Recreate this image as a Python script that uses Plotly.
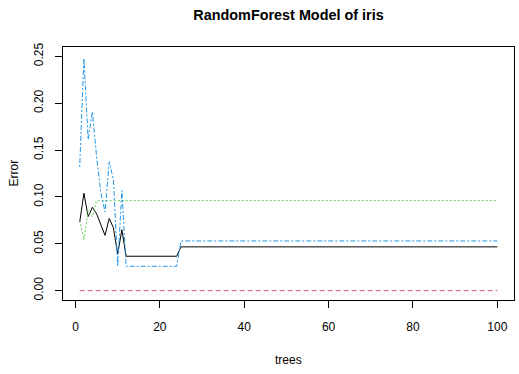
import plotly.graph_objects as go

trees = list(range(1, 101))

oob_early = [0.073, 0.104, 0.079, 0.089, 0.082, 0.071, 0.059, 0.077, 0.067, 0.039, 0.065]
oob = oob_early + [0.0367] * 13 + [0.0467] * 76

setosa = [0.0] * 100

versicolor_early = [0.075, 0.054, 0.0857, 0.0786]
versicolor = versicolor_early + [0.096] * 96

virginica_early = [0.132, 0.248, 0.161, 0.191, 0.143, 0.105, 0.084, 0.1375, 0.118, 0.026, 0.107]
virginica = virginica_early + [0.026] * 13 + [0.053] * 76

series = [
    ("OOB", oob, "black", "solid"),
    ("setosa", setosa, "#DF536B", "5px,3px"),
    ("versicolor", versicolor, "#61D04F", "2px,2px"),
    ("virginica", virginica, "#2297E6", "2px,2px,5px,2px"),
]

y_ticks = [0.0, 0.05, 0.10, 0.15, 0.20, 0.25]
x_ticks = [0, 20, 40, 60, 80, 100]

fig = go.Figure()
for name, vals, col, dash in series:
    fig.add_trace(go.Scatter(x=trees, y=vals, mode="lines", name=name,
                             line=dict(color=col, width=1, dash=dash)))

font = "Liberation Sans, Arial, sans-serif"
fig.update_layout(
    width=519, height=374,
    margin=dict(l=63, r=5, t=47, b=74),
    paper_bgcolor="white", plot_bgcolor="white",
    showlegend=False,
    font=dict(family=font, size=12, color="black"),
    title=dict(text="<b>RandomForest Model of iris</b>", x=0.5, xref="paper",
               y=1 - 15 / 374, yref="container", xanchor="center", yanchor="middle",
               font=dict(family=font, size=14.4, color="black")),
    xaxis=dict(range=[-2.96, 103.96], tickvals=x_ticks, showgrid=False, zeroline=False,
               showline=True, mirror=True, linecolor="black", linewidth=1,
               ticks="outside", ticklen=7, tickcolor="black", tickwidth=1,
               ticklabelstandoff=9, tickfont=dict(size=12), automargin=False),
    yaxis=dict(range=[-0.01, 0.26], tickvals=y_ticks, tickformat=".2f", showgrid=False,
               zeroline=False, showline=True, mirror=True, linecolor="black", linewidth=1,
               ticks="outside", ticklen=7, tickcolor="black", tickwidth=1,
               tickangle=-90, ticklabelstandoff=7, tickfont=dict(size=12),
               automargin=False),
    annotations=[
        dict(text="trees", xref="paper", yref="paper", x=0.5, y=-60 / 253,
             xanchor="center", yanchor="middle", showarrow=False, font=dict(size=12)),
        dict(text="Error", xref="paper", yref="paper", x=(13 - 63) / 451, y=0.5,
             xanchor="center", yanchor="middle", textangle=-90, showarrow=False,
             font=dict(size=12)),
    ],
)

fig.write_html("out.html", config={"displayModeBar": False},
               post_script="document.body.style.margin='0';")
